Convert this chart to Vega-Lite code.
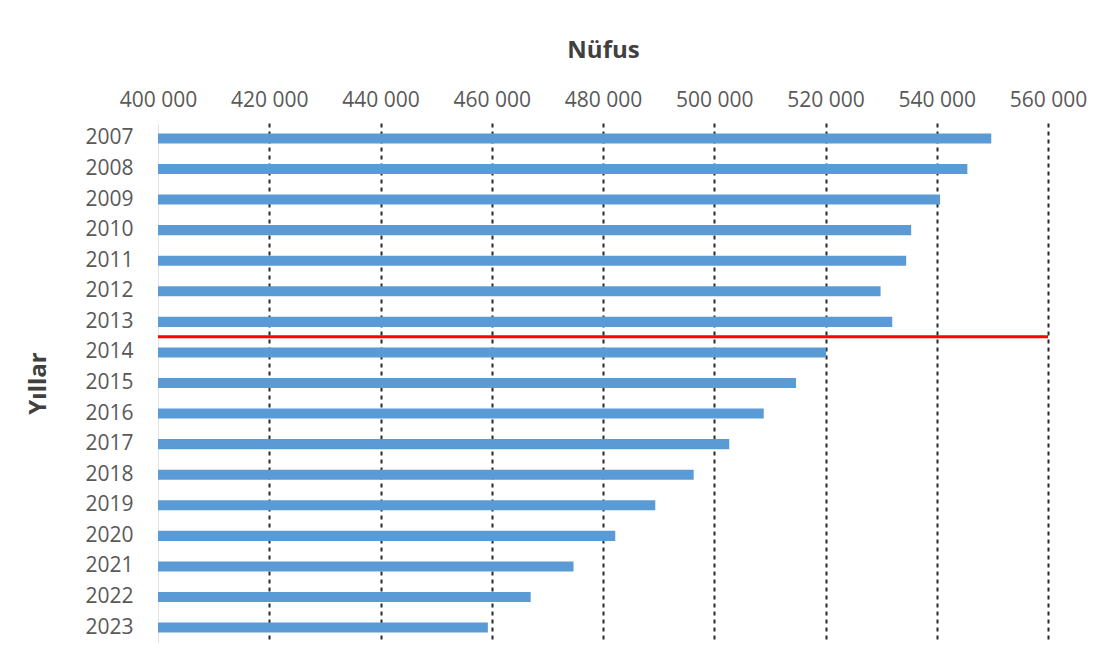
{
  "$schema": "https://vega.github.io/schema/vega-lite/v6.json",
  "autosize": {"type": "none"},
  "width": 890,
  "height": 520,
  "padding": {"left": 158, "top": 123, "right": 52, "bottom": 14},
  "background": "#ffffff",
  "config": {
    "view": {"stroke": null},
    "font": "Open Sans",
    "axis": {"labelFont": "Open Sans", "titleFont": "Open Sans"}
  },
  "datasets": {
    "pop": [
      {"year": "2007", "population": 549800},
      {"year": "2008", "population": 545500},
      {"year": "2009", "population": 540600},
      {"year": "2010", "population": 535400},
      {"year": "2011", "population": 534500},
      {"year": "2012", "population": 529900},
      {"year": "2013", "population": 532000},
      {"year": "2014", "population": 520100},
      {"year": "2015", "population": 514700},
      {"year": "2016", "population": 508900},
      {"year": "2017", "population": 502700},
      {"year": "2018", "population": 496300},
      {"year": "2019", "population": 489400},
      {"year": "2020", "population": 482200},
      {"year": "2021", "population": 474700},
      {"year": "2022", "population": 467000},
      {"year": "2023", "population": 459300}
    ],
    "divider": [
      {"year": "2013", "start": 400000, "end": 560000}
    ]
  },
  "layer": [
    {
      "data": {"name": "pop"},
      "mark": {"type": "bar", "color": "#5B9BD5", "clip": true},
      "encoding": {
        "y": {
          "field": "year",
          "type": "nominal",
          "sort": null,
          "scale": {"paddingInner": 0.67, "paddingOuter": 0.34},
          "axis": {
            "title": "Yıllar",
            "titleFontSize": 24,
            "titleFontWeight": "bold",
            "titleColor": "#404040",
            "titlePadding": 34,
            "labelFontSize": 21,
            "labelColor": "#595959",
            "labelPadding": 25,
            "ticks": false,
            "tickSize": 0,
            "domain": true,
            "domainColor": "#e4e4e4",
            "domainWidth": 1
          }
        },
        "x": {
          "field": "population",
          "type": "quantitative",
          "scale": {"domain": [400000, 560000], "nice": false, "zero": false},
          "axis": {
            "orient": "top",
            "title": "Nüfus",
            "titleFontSize": 24,
            "titleFontWeight": "bold",
            "titleColor": "#404040",
            "titlePadding": 27,
            "values": [400000, 420000, 440000, 460000, 480000, 500000, 520000, 540000, 560000],
            "labelExpr": "replace(format(datum.value, ','), regexp(',', 'g'), ' ')",
            "labelFontSize": 21,
            "labelColor": "#595959",
            "labelPadding": 13,
            "labelFlush": false,
            "labelOverlap": false,
            "labelBound": false,
            "ticks": false,
            "tickSize": 0,
            "domain": false,
            "grid": true,
            "gridColor": {"condition": {"test": "datum.value == 400000", "value": "#ffffff"}, "value": "#2a2a2a"},
            "gridDash": [4, 4],
            "gridWidth": 2
          }
        },
        "x2": {"datum": 400000}
      }
    },
    {
      "data": {"name": "divider"},
      "mark": {"type": "rule", "color": "#ff0000", "strokeWidth": 3, "yOffset": 15},
      "encoding": {
        "y": {"field": "year", "type": "nominal", "sort": null},
        "x": {"field": "start", "type": "quantitative"},
        "x2": {"field": "end"}
      }
    }
  ]
}
